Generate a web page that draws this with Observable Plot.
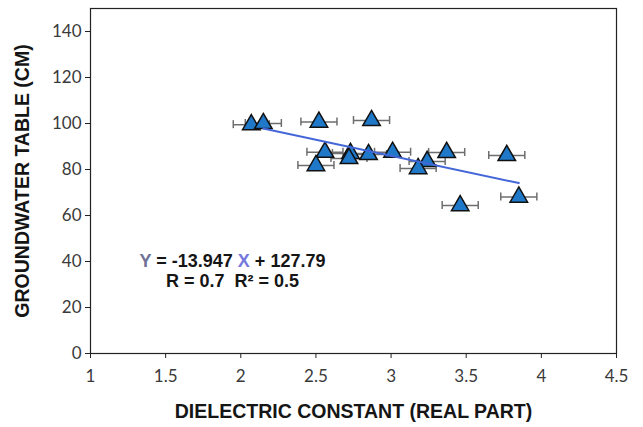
<!DOCTYPE html>
<html>
<head>
<meta charset="utf-8">
<script src="https://cdn.jsdelivr.net/npm/d3@7"></script>
<script src="https://cdn.jsdelivr.net/npm/@observablehq/plot@0.6"></script>
<style>
  html, body { margin: 0; padding: 0; background: white; }
</style>
</head>
<body>
<div id="chart"></div>
<script>
// Data
const xVals = [2.07, 2.15, 2.52, 2.87, 2.56, 2.50, 2.73, 2.72, 2.85, 3.01, 3.24, 3.18, 3.37, 3.46, 3.77, 3.85];
const yVals = [99.5, 100, 100.6, 101.3, 87.5, 81.7, 87, 84.8, 86.5, 87.5, 83.5, 80.4, 87.4, 64.3, 86.1, 68];
const xErr  = [0.12, 0.12, 0.12, 0.12, 0.12, 0.12, 0.12, 0.12, 0.12, 0.12, 0.12, 0.12, 0.12, 0.12, 0.12, 0.12];
const slope = -13.947;
const intercept = 127.79;
const trendRange = [2.15, 3.85];
const xTicks = [1, 1.5, 2, 2.5, 3, 3.5, 4, 4.5];
const yTicks = [0, 20, 40, 60, 80, 100, 120, 140];
const eqLines = ["Y = -13.947 X + 127.79", "R = 0.7\u00a0\u00a0R\u00b2 = 0.5"];

const points = xVals.map((x, i) => ({x, y: yVals[i], lo: x - xErr[i], hi: x + xErr[i]}));
const trend = trendRange.map(x => ({x, y: slope * x + intercept}));
const eq = eqLines.map((t, i) => ({t, i}));

const blue = "#1f78c8";
const boldFont = "'Liberation Sans', Arial, sans-serif";

const chart = Plot.plot({
  width: 643,
  height: 427,
  marginLeft: 90,
  marginRight: 27,
  marginTop: 8,
  marginBottom: 74,
  style: {fontFamily: "Lato, 'Open Sans', sans-serif", fontSize: "17px", color: "#3a3a3a", background: "white"},
  x: {domain: [1, 4.5]},
  y: {domain: [0, 150]},
  marks: [
    Plot.axisX({ticks: xTicks, tickFormat: d => String(d), tickSize: 5, tickPadding: 11, label: "DIELECTRIC CONSTANT (REAL PART)", labelAnchor: "center", labelArrow: "none", labelOffset: 64, stroke: "#222"}),
    Plot.axisY({ticks: yTicks, tickSize: 5, tickPadding: 4, label: "GROUNDWATER TABLE (CM)", labelAnchor: "center", labelArrow: "none", labelOffset: 75, stroke: "#222"}),
    Plot.frame({stroke: "#222", strokeWidth: 1.2}),
    // horizontal error bars
    Plot.link(points, {x1: "lo", x2: "hi", y1: "y", y2: "y", stroke: "#6e6e6e", strokeWidth: 1.5}),
    Plot.ruleX(points, {x: "lo", y1: "y", y2: "y", insetTop: -4, insetBottom: -4, stroke: "#6e6e6e", strokeWidth: 1.5}),
    Plot.ruleX(points, {x: "hi", y1: "y", y2: "y", insetTop: -4, insetBottom: -4, stroke: "#6e6e6e", strokeWidth: 1.5}),
    // markers
    Plot.dot(points, {x: "x", y: "y", symbol: "triangle", r: 6.5, fill: blue, stroke: "#111", strokeWidth: 1.5}),
    // trend line
    Plot.line(trend, {x: "x", y: "y", stroke: "#4466d8", strokeWidth: 2}),
    // equation
    Plot.text(eq, {x: 1.945, y: d => d.i === 0 ? 40 : 31.3, text: "t", fontSize: 18, fontWeight: "bold", fontFamily: boldFont, fill: "#151515"})
  ]
});

const svg = d3.select(chart);
svg.selectAll('g[aria-label="x-axis label"] text, g[aria-label="y-axis label"] text')
  .attr("font-weight", "bold")
  .attr("font-size", 19.5)
  .attr("font-family", boldFont)
  .attr("fill", "#151515");

// colour the Y and X in the equation
svg.selectAll("text").each(function() {
  const el = d3.select(this);
  if (this.textContent === eqLines[0]) {
    el.text(null);
    el.append("tspan").attr("fill", "#6f7196").text("Y");
    el.append("tspan").text(" = -13.947 ");
    el.append("tspan").attr("fill", "#7478dc").text("X");
    el.append("tspan").text(" + 127.79");
  }
});

document.getElementById("chart").appendChild(chart);
</script>
</body>
</html>
